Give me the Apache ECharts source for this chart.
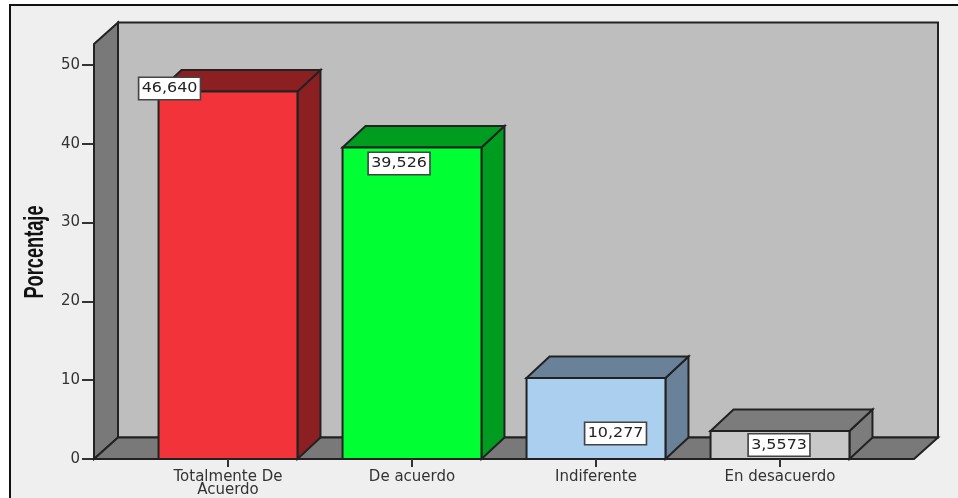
<!DOCTYPE html>
<html>
<head>
<meta charset="utf-8">
<style>html,body{margin:0;padding:0;background:#fff}#c{width:958px;height:498px}</style>
<script src="https://cdn.jsdelivr.net/npm/echarts@6/dist/echarts.min.js"></script>
</head>
<body>
<div id="c"></div>
<script>
const categories = ['Totalmente De\nAcuerdo', 'De acuerdo', 'Indiferente', 'En desacuerdo'];
const values = [46.640, 39.526, 10.277, 3.5573];
const valueLabels = ['46,640', '39,526', '10,277', '3,5573'];
const yTicks = [0, 10, 20, 30, 40, 50];
const yTitle = 'Porcentaje';
const wallTopValue = 52.66;

const frontColors = ['#f2333a', '#00ff33', '#abcfef', '#c8c8c8'];
const depthColors = ['#8c1f22', '#009c20', '#6a8299', '#7c7c7c'];
const labelOffsets = [[11, -3], [56.5, 16], [89, 55.5], [68.5, 14]];

const DX = 23, DY = 21.5, WALL_DX = 24, EDGE = '#222222', SIDE_PAD = 42, BAR_RATIO = 0.755;
const FONT = '14.5px "DejaVu Sans"';

const chart = echarts.init(document.getElementById('c'), null, {renderer: 'canvas'});
const poly = (pts, fill, lw) => ({
  type: 'polygon',
  shape: {points: pts},
  style: {fill, stroke: EDGE, lineWidth: lw || 2, lineJoin: 'miter'}
});

chart.setOption({
  animation: false,
  backgroundColor: '#ffffff',
  graphic: [
    {
      type: 'rect', z: -10, silent: true,
      shape: {x: 10, y: 5, width: 980, height: 520},
      style: {fill: '#efefef', stroke: '#111111', lineWidth: 2}
    },
    {
      type: 'text', z: 20, silent: true,
      x: 35, y: 252, rotation: Math.PI / 2, scaleX: 0.65,
      style: {text: yTitle, font: 'bold 28px "Liberation Sans"', fill: '#111', align: 'center', verticalAlign: 'middle'}
    }
  ],
  grid: {left: 136, top: 65, width: 736, height: 394, containLabel: false},
  xAxis: {
    type: 'category',
    data: categories,
    axisLine: {show: false},
    axisTick: {show: true, alignWithLabel: true, length: 8, lineStyle: {color: '#333', width: 2}},
    axisLabel: {color: '#333', fontFamily: 'DejaVu Sans', fontSize: 15, lineHeight: 13, margin: 12, interval: 0, verticalAlign: 'top'},
    z: 5
  },
  yAxis: {
    type: 'value',
    min: 0, max: 50, interval: 10,
    offset: 42,
    splitLine: {show: false},
    axisLine: {show: false},
    axisTick: {show: true, length: 12, lineStyle: {color: '#333', width: 2}},
    axisLabel: {color: '#333', fontFamily: 'DejaVu Sans', fontSize: 15, margin: 14, padding: [3, 0, 0, 0],
      formatter: v => yTicks.includes(v) ? String(v) : ''}
  },
  series: [
    {
      type: 'custom', silent: true, z: 1, clip: false,
      coordinateSystem: 'cartesian2d',
      data: [[0, 0]],
      renderItem(params, api) {
        const cs = params.coordSys;
        const L = cs.x - SIDE_PAD, R = cs.x + cs.width + SIDE_PAD;
        const B = api.coord([0, 0])[1], T = api.coord([0, wallTopValue])[1];
        return {type: 'group', children: [
          poly([[L + WALL_DX, T - DY], [R + WALL_DX, T - DY], [R + WALL_DX, B - DY], [L + WALL_DX, B - DY]], '#bebebe'),
          poly([[L, T], [L + WALL_DX, T - DY], [L + WALL_DX, B - DY], [L, B]], '#797979'),
          poly([[L, B], [L + WALL_DX, B - DY], [R + WALL_DX, B - DY], [R, B]], '#797979')
        ]};
      }
    },
    {
      type: 'custom', silent: true, z: 2, clip: false,
      coordinateSystem: 'cartesian2d',
      data: values.map((v, i) => [i, v]),
      encode: {x: 0, y: 1},
      renderItem(params, api) {
        const i = api.value(0), v = api.value(1);
        const c = api.coord([i, v]), base = api.coord([i, 0]);
        const w = api.size([1, 0])[0] * BAR_RATIO;
        const L = c[0] - w / 2, R = c[0] + w / 2, T = c[1], B = base[1];
        const off = labelOffsets[i];
        return {type: 'group', children: [
          poly([[R, T], [R + DX, T - DY], [R + DX, B - DY], [R, B]], depthColors[i]),
          poly([[L, T], [L + DX, T - DY], [R + DX, T - DY], [R, T]], depthColors[i]),
          poly([[L, T], [R, T], [R, B], [L, B]], frontColors[i]),
          {
            type: 'text', z2: 10,
            x: L + off[0], y: T + off[1], scaleX: 1.1,
            style: {
              text: valueLabels[i],
              align: 'center', verticalAlign: 'middle',
              fill: '#222', font: FONT,
              backgroundColor: '#ffffff',
              borderColor: '#444', borderWidth: 1.5,
              padding: [3, 2, 3, 2]
            }
          }
        ]};
      }
    }
  ]
});
</script>
</body>
</html>
